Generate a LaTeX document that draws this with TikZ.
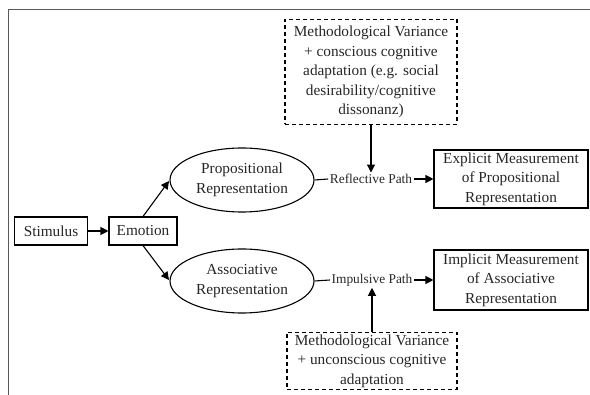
\documentclass[tikz,border=0pt]{standalone}
\usepackage{fontspec}
\setmainfont{Liberation Serif}
\usetikzlibrary{shapes.geometric,arrows.meta}
\begin{document}
\begin{tikzpicture}[x=1pt,y=-1pt,
  every node/.style={font=\fontsize{15.3}{19.5}\selectfont, align=center, text=black!85},
  box/.style={draw, line width=1.1pt, rectangle, inner sep=0pt},
  dbox/.style={draw, line width=1.1pt, dash pattern=on 4pt off 3pt, rectangle, inner sep=0pt},
  ell/.style={draw, line width=1.1pt, ellipse, inner sep=0pt},
  pathlbl/.style={font=\fontsize{13.4}{15}\selectfont, inner sep=1.5pt},
  arr/.style={line width=1.1pt, -{Triangle[length=8pt,width=8pt]}},
  ln/.style={line width=1.1pt}]
\useasboundingbox (0,0) rectangle (590,395);
\draw[black!65, line width=1pt] (8,395) -- (8,10) -- (590,10);

\node[box, minimum width=73pt, minimum height=28pt] (stim) at (51,231) {Stimulus};
\node[box, minimum width=68pt, minimum height=28pt] (emo) at (143,231) {Emotion};
\node[ell, minimum width=144pt, minimum height=64pt] (prop) at (242,180) {Propositional\\Representation};
\node[ell, minimum width=144pt, minimum height=64pt] (assoc) at (242,281) {Associative\\Representation};
\node[pathlbl] (refl) at (371,179) {Reflective Path};
\node[pathlbl] (imp) at (372,280) {Impulsive Path};
\node[box, minimum width=154pt, minimum height=58pt] (expl) at (511,179) {Explicit Measurement\\of Propositional\\Representation};
\node[box, minimum width=154pt, minimum height=60pt] (impl) at (511,280) {Implicit Measurement\\of Associative\\Representation};
\node[dbox, minimum width=172pt, minimum height=105pt] (mv1) at (371,72) {Methodological Variance\\+ conscious cognitive\\adaptation (e.g. social\\desirability/cognitive\\dissonanz)};
\node[dbox, minimum width=170pt, minimum height=57pt] (mv2) at (372,361) {Methodological Variance\\+ unconscious cognitive\\adaptation};

\coordinate (pin) at (169,181);
\coordinate (ain) at (169,280);
\draw[arr] (stim) -- (emo);
\draw[arr] (emo.north) -- (pin);
\draw[arr] (emo.south) -- (ain);
\draw[ln] (prop.east) -- (refl.west);
\draw[arr] (refl.east) -- (expl.west);
\draw[ln] (assoc.east) -- (imp.west);
\draw[arr] (imp.east) -- (impl.west);
\draw[arr] (mv1.south) -- (refl.north);
\draw[arr] (mv2.north) -- (imp.south);
\end{tikzpicture}
\end{document}
